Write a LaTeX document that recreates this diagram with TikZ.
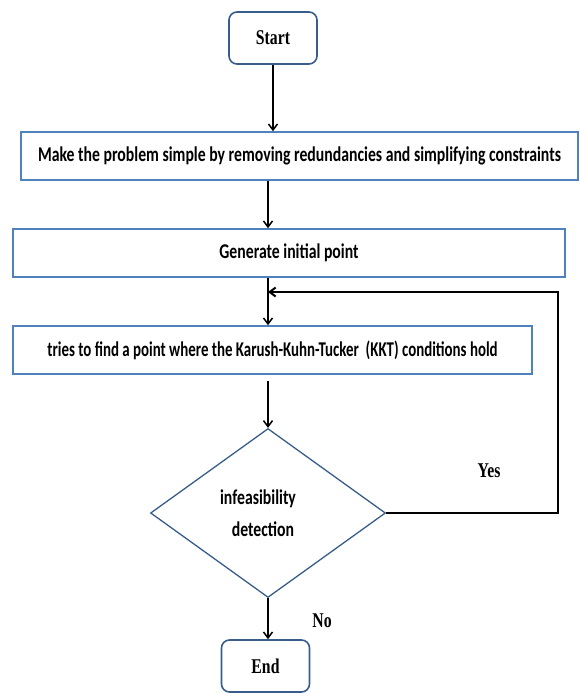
\documentclass[tikz,border=0pt]{standalone}
\usepackage{fontspec}
\usepackage{tikz}
\usetikzlibrary{arrows.meta,shapes,positioning}
\usepackage{xcolor}
\newfontfamily\boxfont{Carlito}[FakeStretch=0.75]
\newfontfamily\narrowfont{Carlito}[FakeStretch=0.71]
\newfontfamily\termfont{Liberation Serif}[FakeStretch=0.75]
\definecolor{kkblue}{RGB}{79,129,189}
\definecolor{kkdarkblue}{RGB}{56,93,138}
\tikzstyle{flowarrow} = [line width=1.5pt,-{Straight Barb[length=6pt,width=9pt]},color=black]
\tikzstyle{process} = [rectangle, minimum height=48pt, text centered, draw=kkblue, fill=white, line width=1.6pt, inner sep=0pt, font=\boxfont\bfseries\fontsize{21}{25}\selectfont]
\tikzstyle{terminal} = [rectangle, rounded corners=8pt, minimum width=88pt, minimum height=52pt, text centered, draw=kkdarkblue, line width=1.6pt, font=\termfont\bfseries\fontsize{21}{25}\selectfont]
\tikzstyle{decision} = [diamond, aspect=1.39, minimum width=235pt, minimum height=169pt, inner sep=0pt, draw=kkdarkblue, line width=1.3pt, align=center, font=\boxfont\bfseries\fontsize{21}{32}\selectfont]
\tikzstyle{answer} = [font=\termfont\bfseries\fontsize{21}{25}\selectfont]

\begin{document}
\begin{tikzpicture}[x=1pt, y=-1pt]
\useasboundingbox (0,0) rectangle (579,693);

% Start and end
\node[terminal] (start) at (273,38) {Start};
\node[terminal] (end) at (265.5,666) {End};

% Steps
\node[process, minimum width=557pt] (simplify) at (299.5,156) {Make the problem simple by removing redundancies and simplifying constraints};
\node[process, minimum width=552pt] (init) at (289,253) {Generate initial point};
\node[process, minimum width=519pt, font=\narrowfont\bfseries\fontsize{21}{25}\selectfont] (kkt) at (272.5,350) {tries to find a point where the Karush-Kuhn-Tucker\ \ (KKT) conditions hold};

% Test
\node[decision] (detect) at (268,513) {infeasibility\hspace*{20pt}\\ detection\hspace*{10pt}};

% Arrows
\draw[flowarrow] (start.south) -- (start.south |- simplify.north);
\draw[flowarrow] (simplify.south -| detect.north) -- (init.north -| detect.north);
\draw[flowarrow] (init.south -| detect.north) -- (kkt.north -| detect.north);
\draw[flowarrow, shorten <=6pt] (kkt.south -| detect.north) -- (detect.north);
\draw[flowarrow] (detect.south) -- (end.north -| detect.south);

% Loop back
\coordinate (back) at (558,292);
\draw[flowarrow, line width=2pt] (detect.east) -| (back) -- (back -| detect.north);

% Answers
\node[answer] (yes) at (489,471) {Yes};
\node[answer] (no) at (322,621) {No};
\end{tikzpicture}
\end{document}
